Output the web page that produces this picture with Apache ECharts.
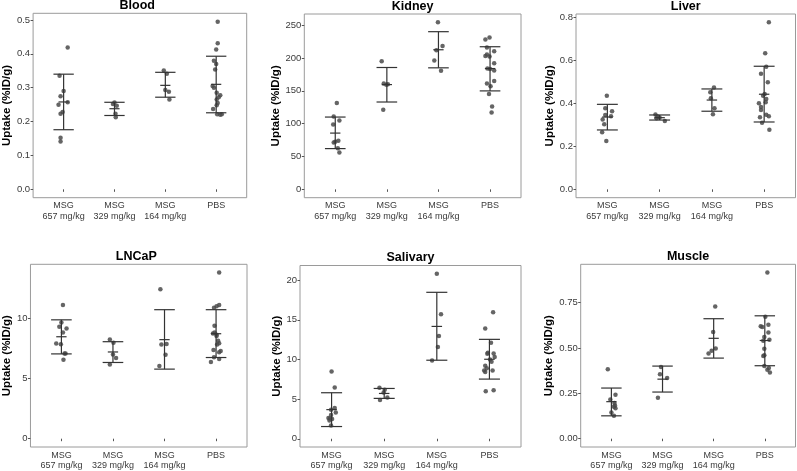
<!DOCTYPE html>
<html><head><meta charset="utf-8">
<script src="https://cdn.jsdelivr.net/npm/echarts@6/dist/echarts.min.js"></script>
<style>html,body{margin:0;padding:0;background:#fff}#c{width:797px;height:471px}</style>
</head><body><div id="c"></div>
<script>
const categories = ['MSG\n657 mg/kg', 'MSG\n329 mg/kg', 'MSG\n164 mg/kg', 'PBS'];
const yAxisTitle = 'Uptake (%ID/g)';

// ---- Blood ----
const bloodValues = [
  [0.419,0.335,0.290,0.275,0.257,0.250,0.228,0.223,0.152,0.141],
  [0.256,0.252,0.247,0.223,0.213],
  [0.351,0.341,0.293,0.288,0.265],
  [0.495,0.431,0.413,0.380,0.370,0.354,0.305,0.300,0.285,0.278,0.272,0.265,0.255,0.248,0.237,0.222,0.222,0.220]
];
const bloodJitter = [
  [0.08,-0.08,0,-0.06,0.08,-0.10,-0.02,-0.06,-0.06,-0.06],
  [0,-0.03,0.045,0.02,0.025],
  [-0.03,0.03,0,0.07,0.08],
  [0.03,0.03,0,-0.045,0,-0.02,-0.07,-0.045,0.01,0.08,0.05,0.01,0.03,0.01,-0.06,0.02,0.11,0.08]
];
const bloodMean  = [0.258,0.238,0.307,0.310];
const bloodLower = [0.176,0.218,0.272,0.226];
const bloodUpper = [0.340,0.257,0.3455,0.393];
const bloodTicks = [0,0.1,0.2,0.3,0.4,0.5];
const bloodTickLabels = ['0.0','0.1','0.2','0.3','0.4','0.5'];

// ---- Kidney ----
const kidneyValues = [
  [131.4,111,104.8,98.7,74,72.5,71.3,62.6,56],
  [195,161,160,159,121],
  [254.1,218,211.8,196,180.3],
  [228,231,216,210,205,203,202,192,184,183,181,161,165,157,145,126,117]
];
const kidneyJitter = [
  [0.03,-0.03,0.08,-0.04,0.06,0,-0.03,0.05,0.08],
  [-0.1,-0.06,0.02,-0.01,-0.07],
  [-0.01,0.08,-0.04,-0.08,0.05],
  [-0.09,-0.01,-0.06,0.08,-0.06,-0.09,-0.01,0.08,-0.05,0,0.08,-0.06,0.08,0.01,-0.02,0.04,0.03]
];
const kidneyMean  = [85.6,159.4,212.4,183.8];
const kidneyLower = [62,132.9,184.9,149.8];
const kidneyUpper = [110,185.4,239.9,217];
const kidneyTicks = [0,50,100,150,200,250];
const kidneyTickLabels = ['0','50','100','150','200','250'];

// ---- Liver ----
const liverValues = [
  [0.435,0.377,0.363,0.346,0.340,0.324,0.302,0.265,0.225],
  [0.348,0.338,0.334,0.330,0.318],
  [0.473,0.451,0.423,0.377,0.349],
  [0.776,0.632,0.570,0.537,0.498,0.443,0.435,0.420,0.405,0.400,0.383,0.369,0.347,0.340,0.335,0.310,0.277]
];
const liverJitter = [
  [-0.01,-0.04,0.09,-0.04,0.07,-0.09,-0.06,-0.1,-0.02],
  [-0.08,-0.04,0,-0.06,0.1],
  [0.04,-0.03,-0.02,0.05,0.02],
  [0.09,0.02,0.04,-0.06,0.07,0.01,-0.02,0.04,0.03,-0.1,-0.06,-0.06,0.04,0.09,-0.08,-0.04,0.1]
];
const liverMean  = [0.336,0.333,0.415,0.442];
const liverLower = [0.276,0.322,0.363,0.313];
const liverUpper = [0.395,0.3456,0.4665,0.572];
const liverTicks = [0,0.2,0.4,0.6,0.8];
const liverTickLabels = ['0.0','0.2','0.4','0.6','0.8'];

// ---- LNCaP ----
const lncapValues = [
  [11.07,9.61,9.26,9.12,8.80,7.89,7.81,7.05,7.05,6.53],
  [8.22,7.95,6.97,6.69,6.15],
  [12.38,7.84,7.79,6.94,6.01],
  [13.75,11.07,10.97,10.85,9.35,8.8,8.7,8.6,8.5,8.1,7.9,7.8,7.35,7.25,7.15,6.75,6.6,6.35]
];
const lncapJitter = [
  [0.03,0,-0.04,0.1,0.03,-0.1,-0.01,0.06,0.08,0.04],
  [-0.06,0.01,0,0.06,-0.06],
  [-0.08,0.04,-0.06,0.02,-0.1],
  [0.06,0.06,0.01,-0.04,-0.03,-0.03,-0.06,0.01,0.01,0.04,0.06,0.02,-0.05,0.09,0.06,-0.04,0.06,-0.1]
];
const lncapMean  = [8.44,7.18,8.2,8.69];
const lncapLower = [7.02,6.31,5.76,6.72];
const lncapUpper = [9.84,8.03,10.68,10.68];
const lncapTicks = [0,5,10];
const lncapTickLabels = ['0','5','10'];

// ---- Salivary ----
const salivaryValues = [
  [8.47,6.47,3.88,3.65,3.30,3.00,2.63,2.55,2.50,2.30,1.67],
  [6.43,6.18,5.84,5.21,4.89],
  [20.8,15.7,12.94,11.57,9.85],
  [15.95,13.9,12.1,10.85,10.7,10.75,10.3,10.0,9.7,9.2,8.9,8.6,8.6,8.4,6.0,6.1]
];
const salivaryJitter = [
  [0,0.06,0.06,-0.01,0.08,-0.01,-0.06,-0.03,0.01,-0.04,-0.01],
  [-0.09,0.01,-0.01,0.06,-0.08],
  [0,0.08,0.04,0.02,-0.09],
  [0.07,-0.08,0.03,-0.03,-0.04,0.08,0.1,0.01,0.04,-0.08,-0.05,-0.1,0.06,-0.08,-0.07,0.08]
];
const salivaryMean  = [3.67,5.71,14.16,10.02];
const salivaryLower = [1.54,5.09,9.9,7.52];
const salivaryUpper = [5.80,6.34,18.46,12.53];
const salivaryTicks = [0,5,10,15,20];
const salivaryTickLabels = ['0','5','10','15','20'];

// ---- Muscle ----
const muscleValues = [
  [0.382,0.242,0.216,0.197,0.183,0.176,0.168,0.144,0.127],
  [0.395,0.355,0.335,0.226],
  [0.728,0.588,0.497,0.484,0.470],
  [0.915,0.672,0.620,0.615,0.628,0.585,0.560,0.545,0.540,0.495,0.460,0.455,0.400,0.390,0.380,0.365]
];
const muscleJitter = [
  [-0.07,0.08,-0.02,0.06,0.07,0.05,0.08,0,0.05],
  [-0.03,-0.05,0.09,-0.09],
  [0.03,-0.01,0.04,-0.04,-0.1],
  [0.05,0.01,-0.08,-0.05,0.07,0.07,-0.01,0.09,-0.03,-0.01,-0.01,-0.03,-0.01,0.08,0.05,0.1]
];
const muscleMean  = [0.204,0.328,0.553,0.541];
const muscleLower = [0.126,0.257,0.444,0.402];
const muscleUpper = [0.279,0.400,0.661,0.677];
const muscleTicks = [0,0.25,0.5,0.75];
const muscleTickLabels = ['0.00','0.25','0.50','0.75'];

const FONT = '"Liberation Sans", Arial, Helvetica, sans-serif';

const panels = [
  {title:'Blood', values:bloodValues, jitter:bloodJitter, mean:bloodMean, lower:bloodLower, upper:bloodUpper, ticks:bloodTicks, labels:bloodTickLabels, box:[27.7,13.3,246.7,197.7], gap:15.5},
  {title:'Kidney', values:kidneyValues, jitter:kidneyJitter, mean:kidneyMean, lower:kidneyLower, upper:kidneyUpper, ticks:kidneyTicks, labels:kidneyTickLabels, box:[304.3,14,521,197.7], gap:19},
  {title:'Liver', values:liverValues, jitter:liverJitter, mean:liverMean, lower:liverLower, upper:liverUpper, ticks:liverTicks, labels:liverTickLabels, box:[576,14,795.5,197.7], gap:16.5},
  {title:'LNCaP', values:lncapValues, jitter:lncapJitter, mean:lncapMean, lower:lncapLower, upper:lncapUpper, ticks:lncapTicks, labels:lncapTickLabels, box:[25.7,264.3,247,448.3], gap:14.5},
  {title:'Salivary', values:salivaryValues, jitter:salivaryJitter, mean:salivaryMean, lower:salivaryLower, upper:salivaryUpper, ticks:salivaryTicks, labels:salivaryTickLabels, box:[300,265.5,521,448.3], gap:15.5},
  {title:'Muscle', values:muscleValues, jitter:muscleJitter, mean:muscleMean, lower:muscleLower, upper:muscleUpper, ticks:muscleTicks, labels:muscleTickLabels, box:[580.7,264.3,795.5,448.3], gap:21}
];

const option = {backgroundColor:'#fff', animation:false, title:[], grid:[], xAxis:[], yAxis:[], series:[]};

panels.forEach((p, i) => {
  const [l, t, r, b] = p.box;
  let m = 0;
  p.values.forEach(g => g.forEach(v => { if (v > m) m = v; }));
  p.upper.forEach(v => { if (v > m) m = v; });
  option.grid.push({left:l, top:t, width:r - l, height:b - t, show:true, borderColor:'#9a9a9a', borderWidth:1, backgroundColor:'transparent'});
  option.title.push({text:p.title, left:(l + r) / 2, top:t - 14, textAlign:'center', padding:0,
    textStyle:{fontFamily:FONT, fontWeight:'bold', fontSize:12.5, color:'#000'}});
  option.xAxis.push({gridIndex:i, type:'value', min:0.4, max:4.6,
    axisLine:{show:false}, splitLine:{show:false},
    axisTick:{show:true, customValues:[1,2,3,4], length:2.5, lineStyle:{color:'#555'}},
    axisLabel:{customValues:[1,2,3,4], formatter:v => categories[Math.round(v) - 1], fontFamily:FONT, fontSize:9, lineHeight:10.5, color:'#3a3a3a', margin:3}});
  option.yAxis.push({gridIndex:i, type:'value', min:-0.05 * m, max:1.05 * m,
    axisLine:{show:false}, splitLine:{show:false},
    axisTick:{show:true, customValues:p.ticks, length:2.5, lineStyle:{color:'#555'}},
    axisLabel:{customValues:p.ticks, formatter:v => { const k = p.ticks.findIndex(tk => Math.abs(tk - v) < 1e-9); return k >= 0 ? p.labels[k] : ''; },
      fontFamily:FONT, fontSize:9.5, color:'#3a3a3a', margin:3},
    name:yAxisTitle, nameLocation:'middle', nameGap:p.gap,
    nameTextStyle:{fontFamily:FONT, fontWeight:'bold', fontSize:11.5, color:'#000'}});
  const pts = [];
  p.values.forEach((g, gi) => g.forEach((v, k) => pts.push([gi + 1 + p.jitter[gi][k], v])));
  option.series.push({type:'scatter', xAxisIndex:i, yAxisIndex:i, data:pts, symbolSize:4.5, silent:true,
    itemStyle:{color:'#4a4a4a', opacity:0.85}, z:2});
  const eb = p.mean.map((mu, gi) => [gi + 1, p.lower[gi], p.upper[gi], mu]);
  option.series.push({type:'custom', xAxisIndex:i, yAxisIndex:i, data:eb, silent:true, z:3,
    encode:{x:0, y:[1,2,3]},
    renderItem:(params, api) => {
      const x = api.value(0);
      const pl = api.coord([x, api.value(1)]);
      const ph = api.coord([x, api.value(2)]);
      const pm = api.coord([x, api.value(3)]);
      const cap = api.size([0.2, 0])[0];
      const mh = api.size([0.1, 0])[0];
      const style = {stroke:'#333', lineWidth:1.2};
      return {type:'group', children:[
        {type:'line', shape:{x1:pl[0], y1:pl[1], x2:ph[0], y2:ph[1]}, style},
        {type:'line', shape:{x1:pl[0]-cap, y1:pl[1], x2:pl[0]+cap, y2:pl[1]}, style},
        {type:'line', shape:{x1:ph[0]-cap, y1:ph[1], x2:ph[0]+cap, y2:ph[1]}, style},
        {type:'line', shape:{x1:pm[0]-mh, y1:pm[1], x2:pm[0]+mh, y2:pm[1]}, style}
      ]};
    }});
});

const chart = echarts.init(document.getElementById('c'), null, {renderer:'canvas', width:797, height:471});
chart.setOption(option);
</script>
</body></html>
